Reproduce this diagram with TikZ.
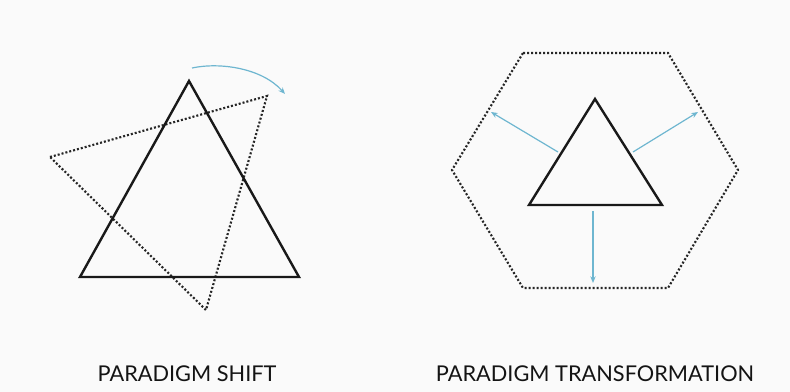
\documentclass[tikz,border=0pt]{standalone}
\usepackage{fontspec}
\setmainfont{Lato}
\usetikzlibrary{arrows.meta}
\definecolor{bg}{RGB}{250,250,250}
\definecolor{arrowblue}{RGB}{110,182,208}
\begin{document}
\begin{tikzpicture}[x=0.75pt,y=-0.75pt,
  solidtri/.style={draw=black!90,line width=1.8pt,line join=miter},
  dottri/.style={draw=black!85,line width=1.6pt,dash pattern=on 1.5pt off 1.5pt},
  bluearrow/.style={draw=arrowblue,line width=0.9pt,-{Stealth[length=5pt,width=4pt]}},
  lbl/.style={font=\fontsize{16.3}{19}\selectfont,text=black!92,inner sep=0pt}]
\fill[bg] (0,0) rectangle (790,392);
\useasboundingbox (0,0) rectangle (790,392);
% left
\coordinate (dA) at (50,157);
\coordinate (dB) at (267,96);
\coordinate (dC) at (206,310);
\draw[dottri] (dA) -- (dB) -- (dC) -- cycle;
\coordinate (sA) at (189,81);
\coordinate (sB) at (80,277);
\coordinate (sC) at (299,277);
\draw[solidtri] (sA) -- (sB) -- (sC) -- cycle;
\coordinate (arcS) at (192,68);
\coordinate (arcE) at (285,94);
\draw[bluearrow] (arcS) .. controls (220,62) and (262,68) .. (arcE);
% right
\coordinate (h1) at (523,53);
\coordinate (h2) at (668,53);
\coordinate (h3) at (738,170);
\coordinate (h4) at (668,288);
\coordinate (h5) at (523,288);
\coordinate (h6) at (452,170);
\draw[dottri] (h1) -- (h2) -- (h3) -- (h4) -- (h5) -- (h6) -- cycle;
\coordinate (tA) at (595,99);
\coordinate (tB) at (529,205);
\coordinate (tC) at (662,205);
\draw[solidtri] (tA) -- (tB) -- (tC) -- cycle;
\coordinate (a1s) at (558,152);
\coordinate (a1e) at (491,112);
\coordinate (a2s) at (633,152);
\coordinate (a2e) at (698,112);
\coordinate (a3s) at (593,211);
\coordinate (a3e) at (593,283);
\draw[bluearrow] (a1s) -- (a1e);
\draw[bluearrow] (a2s) -- (a2e);
\draw[bluearrow] (a3s) -- (a3e);
% labels
\node[lbl] (l1) at (187,374) {PARADIGM SHIFT};
\node[lbl] (l2) at (595,374) {PARADIGM TRANSFORMATION};
\end{tikzpicture}
\end{document}
